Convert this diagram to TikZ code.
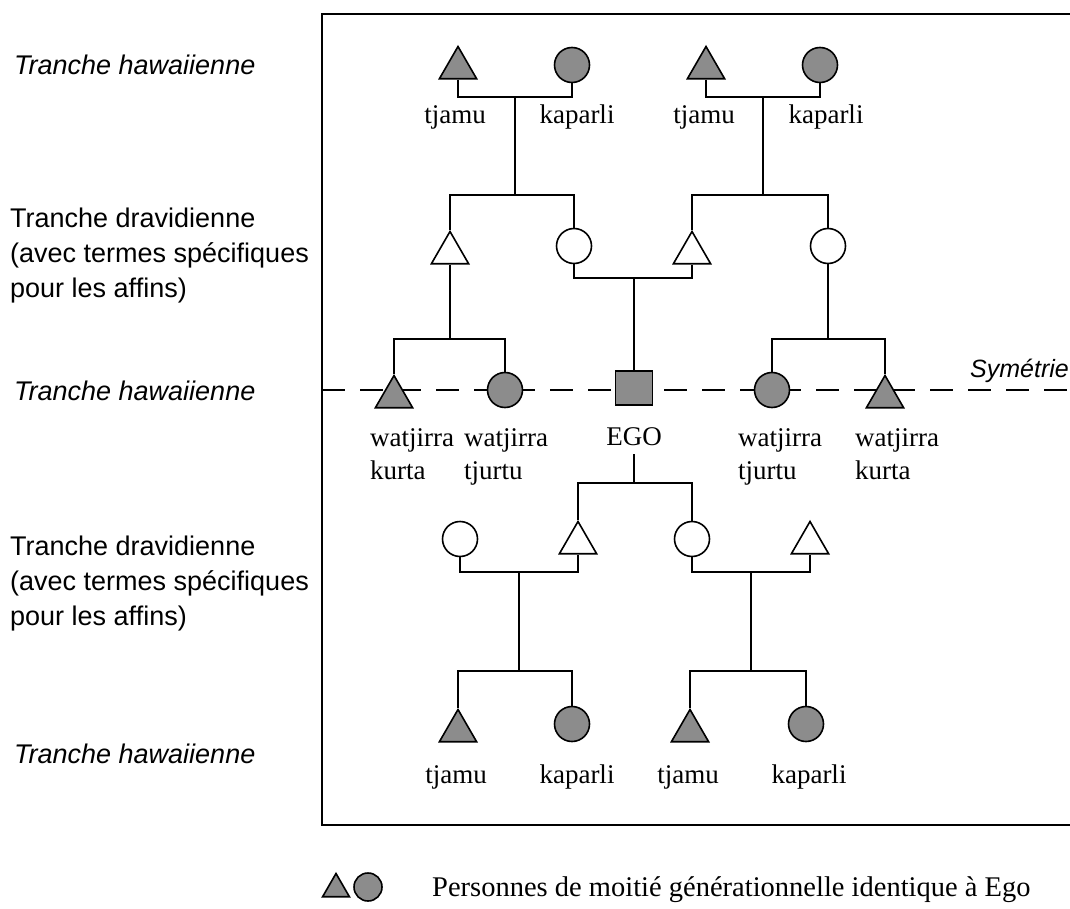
\documentclass[tikz,border=0pt]{standalone}
\usepackage{fontspec}
\setmainfont{Liberation Serif}
\setsansfont{Liberation Sans}
\usetikzlibrary{shapes.geometric}
\tikzset{
  tri/.style = {regular polygon, regular polygon sides=3, draw=black, fill=white,
    minimum size=43pt, inner sep=0pt, line width=1.6pt},
  cir/.style = {circle, draw=black, fill=white, minimum size=35pt, inner sep=0pt,
    line width=1.6pt},
  ego/.style = {rectangle, draw=black, fill=black!45, minimum width=37pt,
    minimum height=34pt, inner sep=0pt, line width=1.6pt},
  same/.style = {fill=black!45},
  lp/.style = {draw=black, line width=1.6pt},
  cadre/.style = {draw=black, line width=2.4pt},
  sym/.style = {draw=black, line width=1.6pt, dash pattern=on 23pt off 15pt},
  nom/.style = {font=\fontsize{27}{33}\selectfont, align=left, inner sep=0pt},
  haw/.style = {font=\sffamily\itshape\fontsize{27}{35}\selectfont, anchor=base west,
    inner sep=0pt},
  drav/.style = {font=\sffamily\fontsize{27}{35}\selectfont, anchor=north west,
    align=left, inner sep=0pt}
}

\begin{document}
\begin{tikzpicture}[x=1pt, y=-1pt]
  \useasboundingbox (0,0) rectangle (1070,909);
  % cadre et symetrie
  \draw [cadre] (1070,14) -- (322,14) -- (322,825) -- (1070,825);
  \coordinate (sg) at (322,390);
  \coordinate (sd) at (1070,390);
  \draw [sym] (sg) -- (sd);
  \node [font=\sffamily\itshape\fontsize{25}{28}\selectfont, anchor=base east,
    inner sep=0pt] (symt) at (1069,377) {Symétrie};

  % tranches
  \foreach \y in {75,400,763}
    \node [haw] (th\y) at (14,\y) {Tranche hawaiienne};
  \foreach \y in {208,536}
    \node [drav] (td\y) at (10,\y) {Tranche dravidienne\\(avec termes spécifiques\\pour les affins)};

  % generation +2
  \node [tri, same] (ga1) at (458,68) {};
  \node [cir, same] (gb1) at (572,65) {};
  \node [tri, same] (ga2) at (706,68) {};
  \node [cir, same] (gb2) at (820,65) {};
  \foreach \x/\t in {455/tjamu, 577/kaparli, 704/tjamu, 826/kaparli}
    \node [nom, anchor=base] (hn\x) at (\x,124) {\t};
  \coordinate (m1) at (515,97);
  \coordinate (m2) at (763,97);
  \coordinate (s1) at (515,195);
  \coordinate (s2) at (763,195);
  \draw [lp] (ga1.south) |- (m1) -| (gb1.south);
  \draw [lp] (ga2.south) |- (m2) -| (gb2.south);
  \draw [lp] (m1) -- (s1);
  \draw [lp] (m2) -- (s2);

  % generation +1
  \node [tri] (oa) at (450,253) {};
  \node [cir] (ob) at (574,246) {};
  \node [tri] (oc) at (692,253) {};
  \node [cir] (od) at (828,246) {};
  \draw [lp] (oa.north) |- (s1) -| (ob.north);
  \draw [lp] (oc.north) |- (s2) -| (od.north);
  \coordinate (m3) at (634,278);
  \coordinate (s3) at (450,339);
  \coordinate (s4) at (828,339);
  \draw [lp] (ob.south) |- (m3) -| (oc.south);

  % generation d'ego
  \node [tri, same] (k1) at (394,397) {};
  \node [cir, same] (w1) at (505,390) {};
  \node [ego] (ego) at (634,388) {};
  \node [cir, same] (w2) at (772,390) {};
  \node [tri, same] (k2) at (885,397) {};
  \draw [lp] (m3) -- (ego.north);
  \draw [lp] (oa.south) -- (s3);
  \draw [lp] (od.south) -- (s4);
  \draw [lp] (k1.north) |- (s3) -| (w1.north);
  \draw [lp] (w2.north) |- (s4) -| (k2.north);
  \foreach \x/\t in {370/{watjirra\\kurta}, 464/{watjirra\\tjurtu},
      738/{watjirra\\tjurtu}, 855/{watjirra\\kurta}}
    \node [nom, anchor=north west] (en\x) at (\x,428) {\t};
  \node [nom, anchor=base] (egol) at (634,445) {EGO};

  % generation -1
  \coordinate (s5) at (634,483);
  \node [cir] (cf1) at (460,539) {};
  \node [tri] (f1) at (578,543) {};
  \node [cir] (f2) at (692,539) {};
  \node [tri] (cf2) at (810,543) {};
  \draw [lp] ([yshift=-9pt]egol.south) -- (s5);
  \draw [lp] (f1.north) |- (s5) -| (f2.north);
  \coordinate (m4) at (519,572);
  \coordinate (m5) at (751,572);
  \coordinate (s6) at (519,671);
  \coordinate (s7) at (751,671);
  \draw [lp] (cf1.south) |- (m4) -| (f1.south);
  \draw [lp] (f2.south) |- (m5) -| (cf2.south);
  \draw [lp] (m4) -- (s6);
  \draw [lp] (m5) -- (s7);

  % generation -2
  \node [tri, same] (pa1) at (458,731) {};
  \node [cir, same] (pb1) at (572,724) {};
  \node [tri, same] (pa2) at (690,731) {};
  \node [cir, same] (pb2) at (806,724) {};
  \draw [lp] (pa1.north) |- (s6) -| (pb1.north);
  \draw [lp] (pa2.north) |- (s7) -| (pb2.north);
  \foreach \x/\t in {456/tjamu, 577/kaparli, 688/tjamu, 809/kaparli}
    \node [nom, anchor=base] (bn\x) at (\x,783) {\t};

  % legende
  \node [tri, same, minimum size=31pt] (lt) at (336,889) {};
  \node [cir, same, minimum size=28pt] (lc) at (368,887) {};
  \node [nom, font=\fontsize{28.5}{33}\selectfont, anchor=base west] (lg) at (432,896) {Personnes de moitié générationnelle identique à Ego};
\end{tikzpicture}
\end{document}
